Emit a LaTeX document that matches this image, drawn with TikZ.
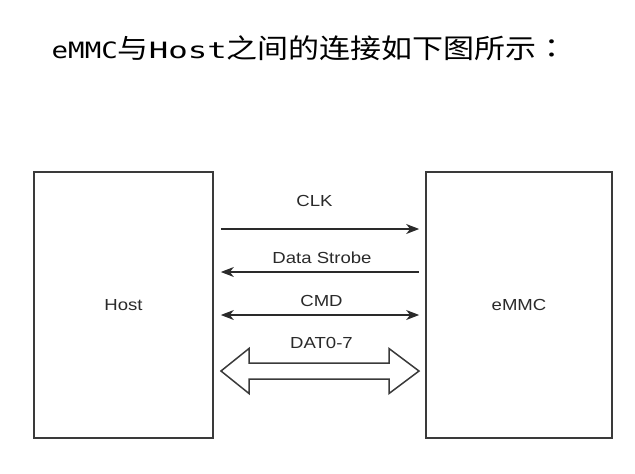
\documentclass[tikz,border=0pt]{standalone}
\usepackage{fontspec}
\usepackage{xcolor}
\usepackage{tikz}
\usetikzlibrary{arrows.meta}
\setmainfont{Liberation Sans}
\newfontfamily\labelfont[FakeStretch=1.16]{Liberation Sans}
\newfontfamily\titlemono[FakeStretch=1.22]{DejaVu Sans Mono}
\newfontfamily\titlemonowide[FakeStretch=1.44]{DejaVu Sans Mono}
\newfontfamily\titlecjk[FakeStretch=1.148]{Noto Sans CJK SC}
\newfontfamily\titlecolon[FakeStretch=1.148]{Noto Sans CJK TC}
\definecolor{linegray}{HTML}{2A2A2A}
\definecolor{boxgray}{HTML}{3A3A3A}

\begin{document}
\begin{tikzpicture}[x=1pt, y=-1pt, >={Stealth[length=13pt, width=10pt, inset=4pt]},
  blockbox/.style={draw=boxgray, line width=1.7pt, minimum width=179pt, minimum height=266pt, inner sep=0pt, font=\labelfont\fontsize{16}{18}\selectfont, text=linegray},
  sig/.style={draw=linegray, line width=1.1pt, shorten <=7pt, shorten >=6pt},
  sig label/.style={font=\labelfont\fontsize{16}{18}\selectfont, text=linegray, inner sep=0pt, anchor=base},
  bus/.style={draw=boxgray, line width=1.5pt, line join=miter}]
  \useasboundingbox (0,0) rectangle (635,474);
  % title
  \node[anchor=base west, inner sep=0pt] (title) at (51.5,58.5)
    {{\titlemono\fontsize{22.5}{26}\selectfont eMMC}{\titlecjk\fontsize{27}{30}\selectfont 与}{\titlemonowide\fontsize{22.5}{26}\selectfont Host}{\titlecjk\fontsize{27}{30}\selectfont 之间的连接如下图所示}{\titlecolon\fontsize{27}{30}\selectfont ：}};
  % blocks
  \node[blockbox] (host) at (123.5,305) {Host};
  \node[blockbox, minimum width=186pt] (emmc) at (519,305) {eMMC};
  % signal rows
  \coordinate (clk) at (0,229);
  \coordinate (ds) at (0,272);
  \coordinate (cmd) at (0,315);
  \draw[sig, ->] (host.east |- clk) -- (emmc.west |- clk);
  \draw[sig, <-] (host.east |- ds) -- (emmc.west |- ds);
  \draw[sig, <->] (host.east |- cmd) -- (emmc.west |- cmd);
  \node[sig label] (clk label) at (314.5,206.5) {CLK};
  \node[sig label] (ds label) at (322,263) {Data Strobe};
  \node[sig label] (cmd label) at (321.5,306.5) {CMD};
  \node[sig label] (dat label) at (321.5,348) {DAT0-7};
  % data bus
  \draw[bus] (221,371) -- (249,348.5) -- (249,363) -- (389,363) -- (389,348.5) -- (419,371)
    -- (389,393.5) -- (389,379) -- (249,379) -- (249,393.5) -- cycle;
\end{tikzpicture}
\end{document}
